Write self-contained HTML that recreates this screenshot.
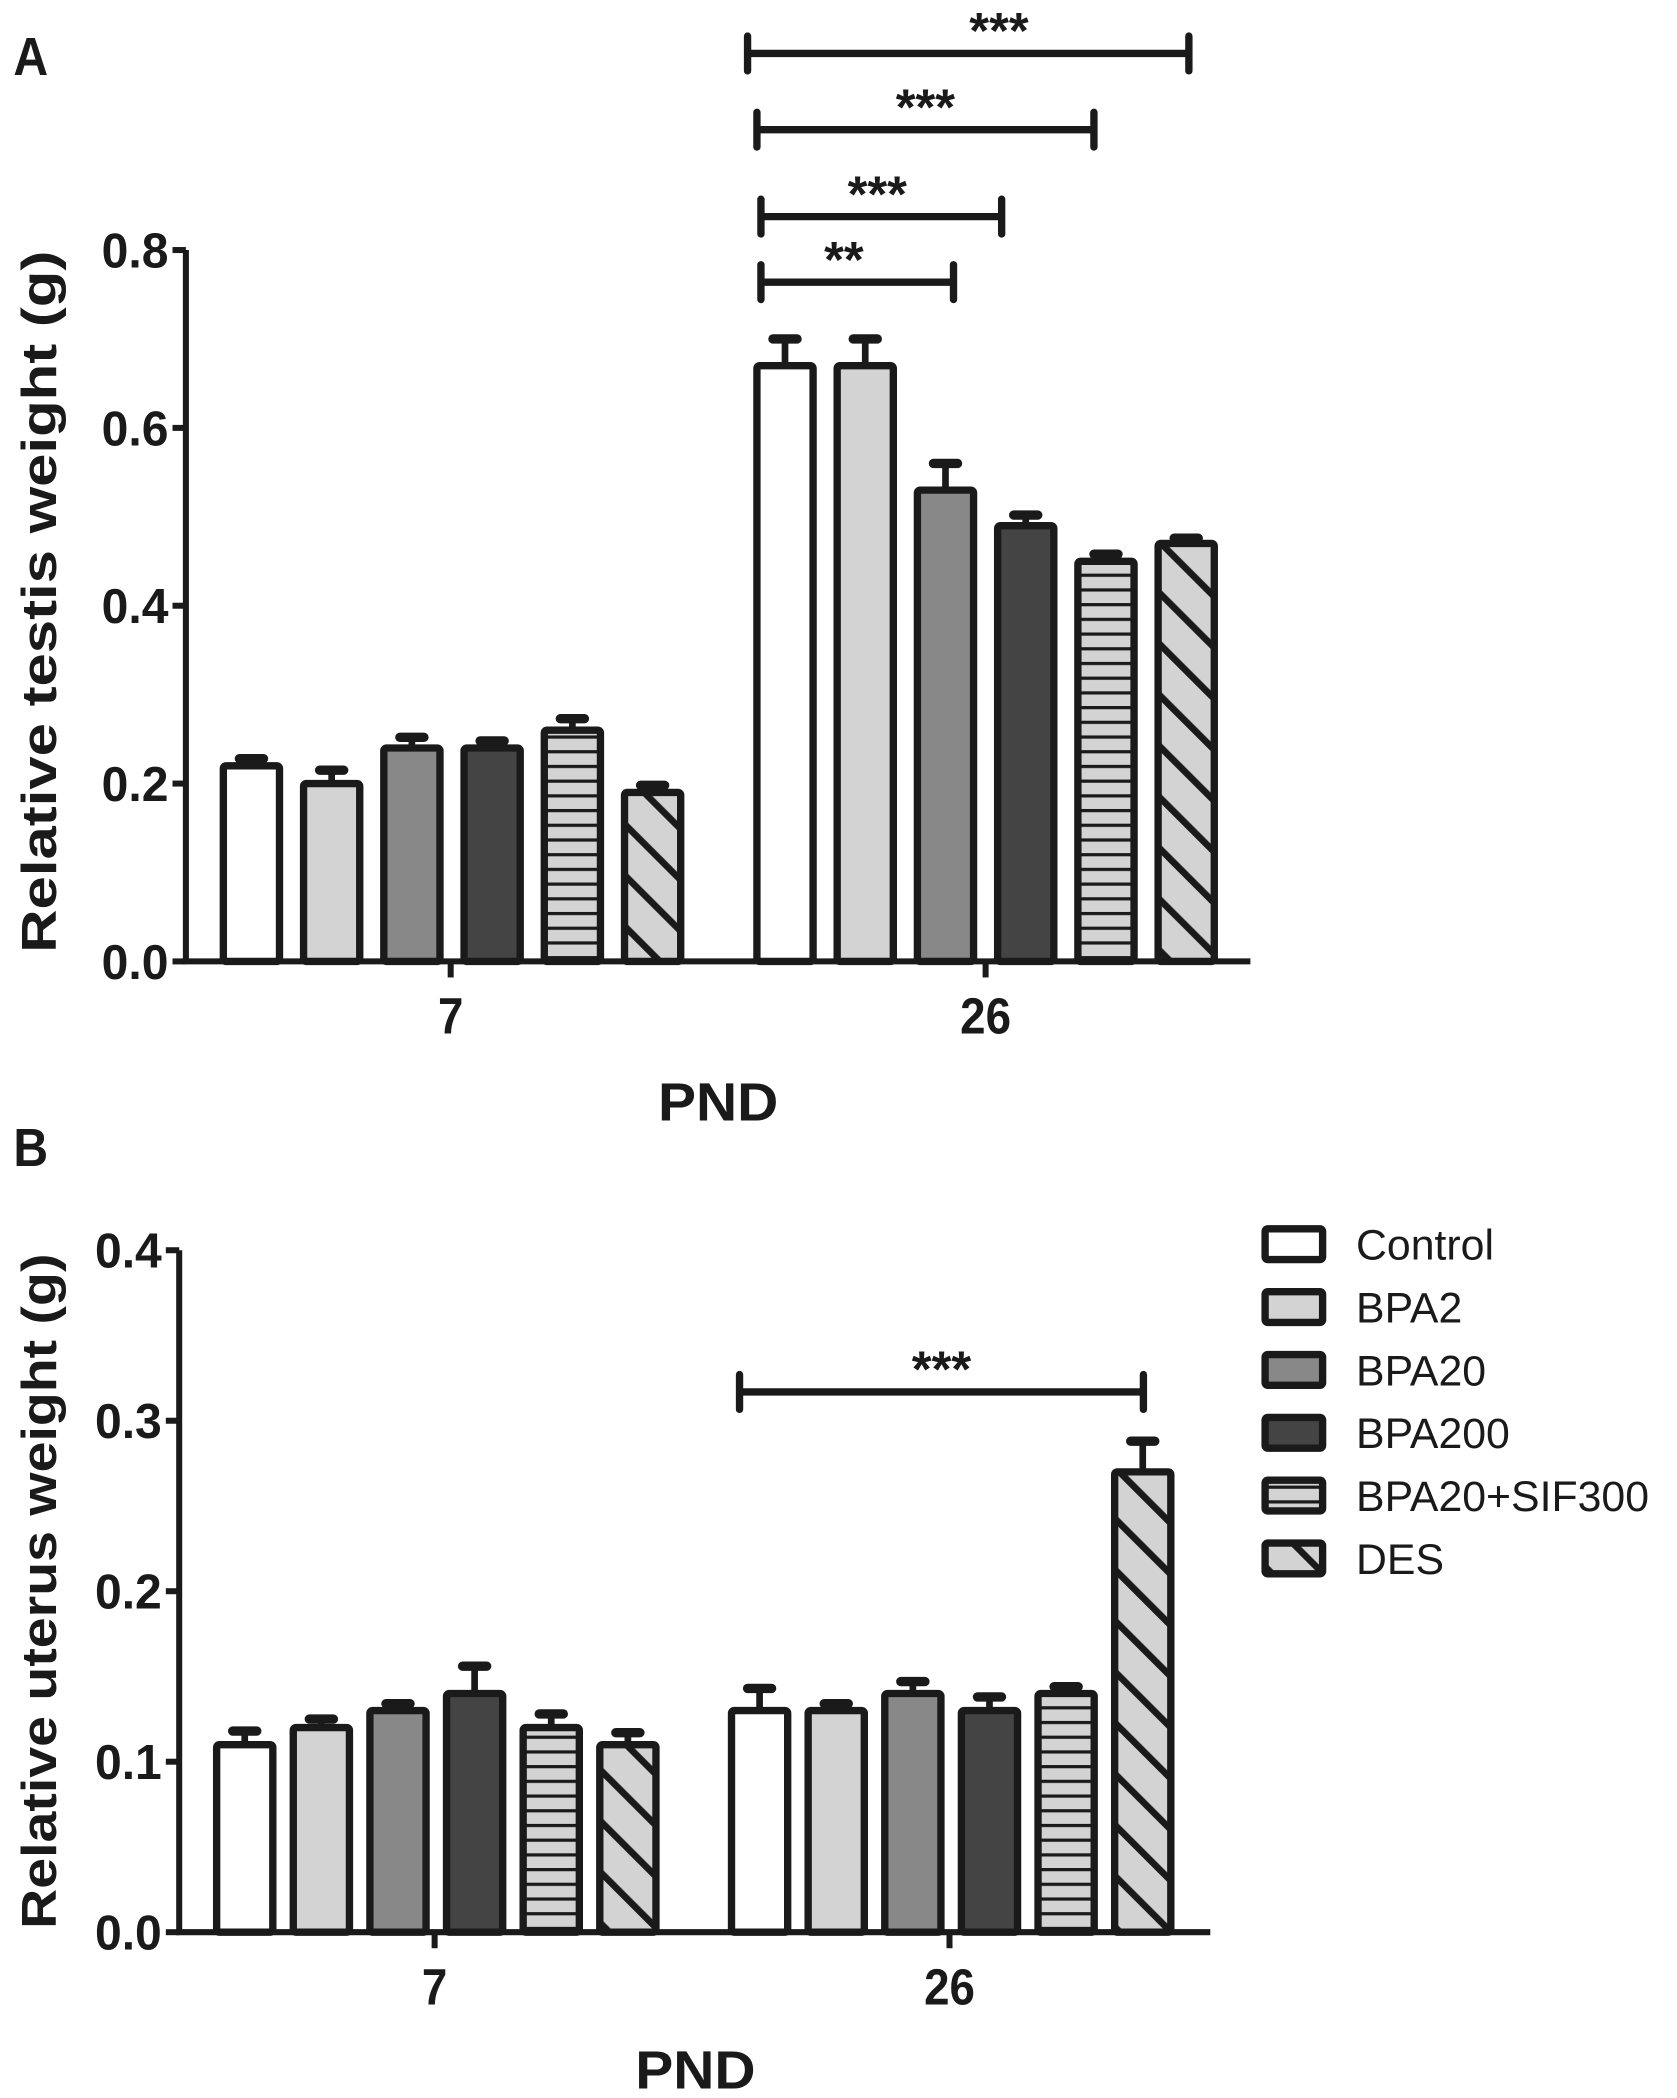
<!DOCTYPE html>
<html><head><meta charset="utf-8"><style>
html,body{margin:0;padding:0;background:#fff;}
svg{display:block;}
text{font-family:"Liberation Sans",sans-serif;fill:#1a1a1a;}
</style></head><body>
<svg id="fig" width="1677" height="2098" viewBox="0 0 1254 1569" preserveAspectRatio="none" xmlns="http://www.w3.org/2000/svg">
<defs>
<pattern id="hstripe" patternUnits="userSpaceOnUse" width="10" height="11"><rect width="10" height="11" fill="#d3d3d3"/><rect y="0" width="10" height="2.4" fill="#1a1a1a"/></pattern>
<pattern id="diag" patternUnits="userSpaceOnUse" width="27" height="27" patternTransform="rotate(-45)"><rect width="27" height="27" fill="#d3d3d3"/><rect x="0" width="5" height="27" fill="#1a1a1a"/></pattern>
</defs>
<g id="root"></g>
</svg>
<script>
const groups = ["Control","BPA2","BPA20","BPA200","BPA20+SIF300","DES"];
const pndLabels = ["7","26"];
const testis7 = [0.22,0.20,0.24,0.24,0.26,0.19];
const testis7Err = [0.008,0.015,0.012,0.008,0.013,0.008];
const testis26 = [0.67,0.67,0.53,0.49,0.45,0.47];
const testis26Err = [0.03,0.03,0.03,0.012,0.008,0.006];
const uterus7 = [0.11,0.12,0.13,0.14,0.12,0.11];
const uterus7Err = [0.008,0.005,0.004,0.016,0.008,0.007];
const uterus26 = [0.13,0.13,0.14,0.13,0.14,0.27];
const uterus26Err = [0.013,0.004,0.007,0.008,0.004,0.018];
const ticksA = [0.0,0.2,0.4,0.6,0.8];
const ticksB = [0.0,0.1,0.2,0.3,0.4];

const NS="http://www.w3.org/2000/svg";
const root=document.getElementById('root');
const fills=["#ffffff","#d3d3d3","#888888","#444444","url(#hstripe)","url(#diag)"];
function mk(tag,attrs,parent){const e=document.createElementNS(NS,tag);for(const k in attrs)e.setAttribute(k,attrs[k]);(parent||root).appendChild(e);return e;}
function txt(x,y,s,size,anchor,weight,parent,tl){const a={x:x,y:y,'font-size':size,'text-anchor':anchor||'middle','font-weight':weight||'bold'};if(tl){a.textLength=tl;a.lengthAdjust='spacingAndGlyphs';}const t=mk('text',a,parent);t.textContent=s;return t;}

function panel(cfg){
  const g=mk('g',{});
  
  
  const y=v=>cfg.y0-(v/cfg.max)*(cfg.y0-cfg.yTop);
  const sets=[[cfg.d7,cfg.e7,cfg.x7],[cfg.d26,cfg.e26,cfg.x26]];
  sets.forEach((s,gi)=>{
    s[0].forEach((v,i)=>{
      const x=s[2]+i*cfg.step;
      const top=y(v), et=y(v+s[1][i]);
      const eb=mk('line',{x1:x+cfg.w/2,x2:x+cfg.w/2,y1:top,y2:et,stroke:'#1a1a1a','stroke-width':5},g);
      
      
      const cap=mk('line',{x1:x+cfg.w/2-9,x2:x+cfg.w/2+9,y1:et,y2:et,stroke:'#1a1a1a','stroke-width':7,'stroke-linecap':'round'},g);
      
      
      const r=mk('rect',{x:x,y:top,width:cfg.w,height:cfg.y0-top,fill:fills[i],stroke:'#1a1a1a','stroke-width':5.5,rx:2},g);
      
      
    });
  });
  const ax=mk('path',{d:`M${cfg.ax} ${cfg.yTop} V${cfg.y0} H${cfg.axEnd}`,fill:'none',stroke:'#1a1a1a','stroke-width':4.5},g);
  
  
  cfg.ticks.forEach(t=>{
    const ty=y(t);
    mk('line',{x1:cfg.ax-10,x2:cfg.ax,y1:ty,y2:ty,stroke:'#1a1a1a','stroke-width':4.5},g);
    const l=txt(cfg.ax-13,ty+13,t.toFixed(1),37,'end','bold',g,50);
    
    
  });
  [cfg.t7,cfg.t26].forEach((tx,i)=>{
    mk('line',{x1:tx,x2:tx,y1:cfg.y0,y2:cfg.y0+12,stroke:'#1a1a1a','stroke-width':4.5},g);
    const l=txt(tx,cfg.y0+54,pndLabels[i],38,'middle','bold',g,pndLabels[i].length*19);
    
    
  });
  const xt=txt(cfg.xTitleX,cfg.xTitleY,'PND',40,'middle','bold',g,90);
  
  
  const yt=txt(0,0,cfg.yTitle,37,'middle','bold',g,cfg.yTitleLen);
  yt.setAttribute('transform',`translate(${cfg.yTitleX},${cfg.yTitleY}) rotate(-90)`);
  
  
  cfg.brackets.forEach(b=>{
    const p=mk('path',{d:`M${b[0]} ${b[2]} H${b[1]} M${b[0]} ${b[2]-13} V${b[2]+13} M${b[1]} ${b[2]-13} V${b[2]+13}`,stroke:'#1a1a1a','stroke-width':5.5,fill:'none','stroke-linecap':'round'},g);
    
    
    const s=txt((b[0]+b[1])/2+b[4],b[2]-4,b[3],38,'middle','bold',g);
    
    
  });
  const pl=txt(cfg.labelX,cfg.labelY,cfg.label,40,'start','bold',g,26);
  
  
}

panel({name:'panel-a-testis',y0:719,yTop:187,max:0.8,ax:139,axEnd:935,x7:167,x26:566,step:60,w:42,
  d7:testis7,e7:testis7Err,d26:testis26,e26:testis26Err,ticks:ticksA,t7:337,t26:737,
  xTitleX:537,xTitleY:838,yTitle:'Relative  testis  weight  (g)',yTitleLen:525,yTitleX:42,yTitleY:450,
  brackets:[[559,889,40,'***',23],[566,818,97,'***',0],[569,749,162,'***',-3],[569,713,211,'**',-10]],
  label:'A',labelX:10,labelY:56});
panel({name:'panel-b-uterus',y0:1445,yTop:935,max:0.4,ax:134,axEnd:905,x7:162,x26:547,step:57.3,w:42,
  d7:uterus7,e7:uterus7Err,d26:uterus26,e26:uterus26Err,ticks:ticksB,t7:325,t26:710,
  xTitleX:520,xTitleY:1562,yTitle:'Relative uterus weight (g)',yTitleLen:505,yTitleX:42,yTitleY:1190,
  brackets:[[553,855,1041,'***',0]],
  label:'B',labelX:10,labelY:872});

const lg=mk('g',{});


groups.forEach((n,i)=>{
  const cy=930+i*47;
  const e=mk('g',{},lg);
  
  
  mk('rect',{x:946,y:cy-11,width:43,height:23,fill:fills[i],stroke:'#1a1a1a','stroke-width':5.5,rx:2},e);
  txt(1014,cy+12,n,32,'start','normal',e);
});
</script>
</body></html>
